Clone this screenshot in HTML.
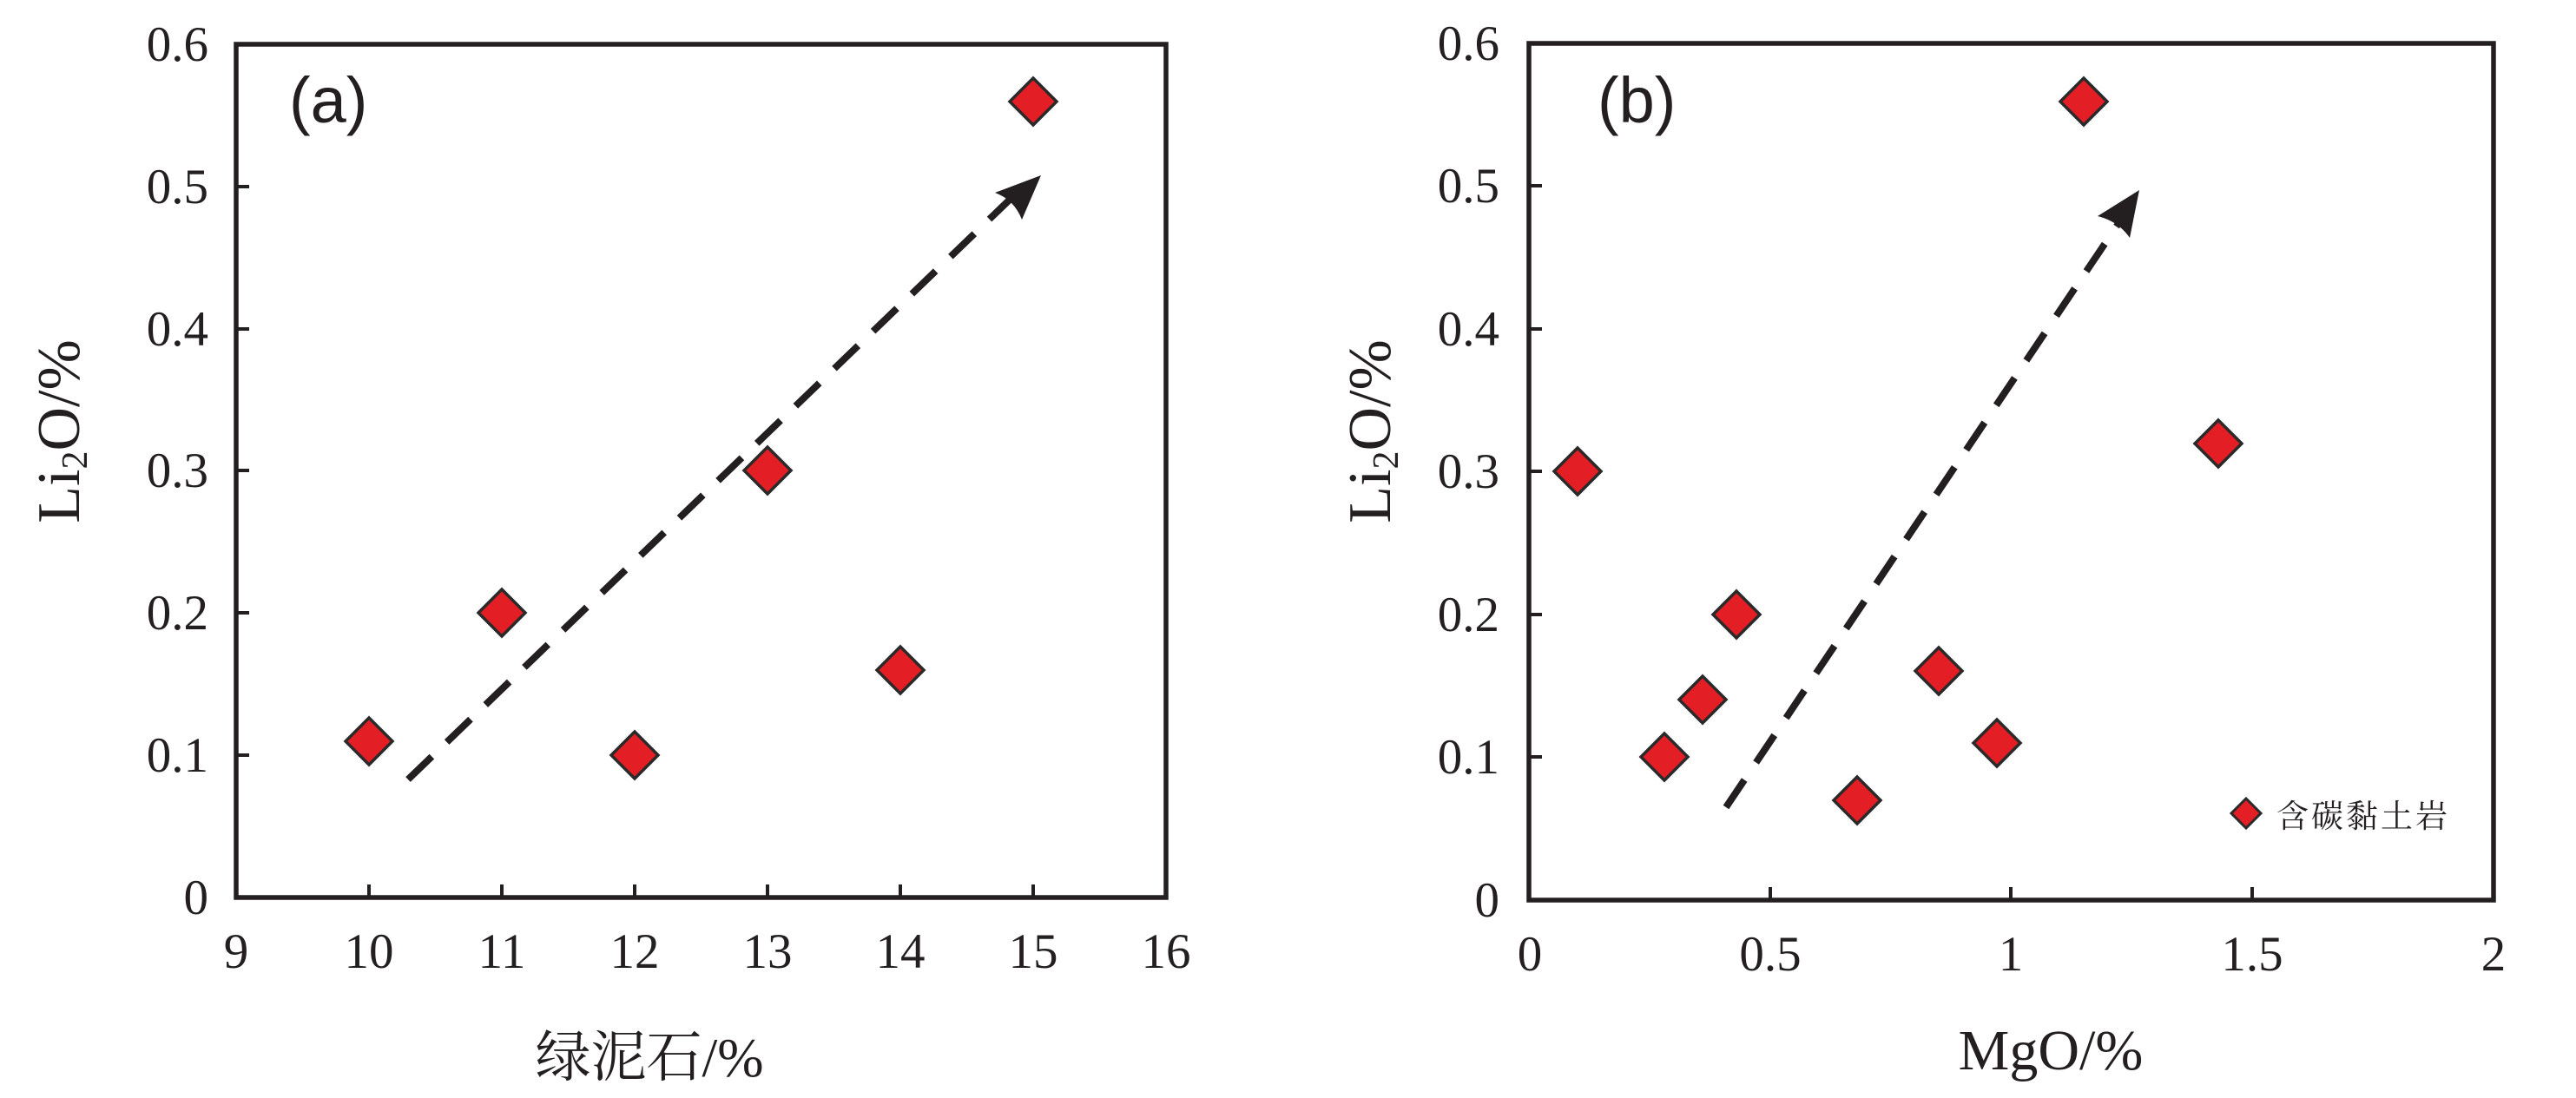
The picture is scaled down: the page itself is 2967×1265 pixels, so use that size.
<!DOCTYPE html>
<html><head><meta charset="utf-8"><style>
html,body{margin:0;padding:0;background:#fff;}
svg{display:block}
.t{font-family:"Liberation Serif",serif;font-size:57px;fill:#231f20}
.cn{font-family:"Liberation Serif","Noto Serif CJK SC",serif;font-size:64px;fill:#231f20}
.lab{font-family:"Liberation Sans",sans-serif;font-size:74px;fill:#231f20}
</style></head><body>
<svg width="2967" height="1265" viewBox="0 0 2967 1265" xmlns="http://www.w3.org/2000/svg">
<defs>
<path id="d" d="M0,-27 L27,0 L0,27 L-27,0 Z" fill="#e31e24" stroke="#2a2a2a" stroke-width="3.5"/>
</defs>
<!-- Panel a -->
<g>
<rect x="272" y="51" width="1071" height="983" fill="none" stroke="#231f20" stroke-width="5.5"/>
<g stroke="#231f20" stroke-width="4">
<line x1="425" y1="1034" x2="425" y2="1019"/><line x1="578" y1="1034" x2="578" y2="1019"/>
<line x1="731" y1="1034" x2="731" y2="1019"/><line x1="884" y1="1034" x2="884" y2="1019"/>
<line x1="1037" y1="1034" x2="1037" y2="1019"/><line x1="1190" y1="1034" x2="1190" y2="1019"/>
<line x1="272" y1="870" x2="287" y2="870"/><line x1="272" y1="706" x2="287" y2="706"/>
<line x1="272" y1="542" x2="287" y2="542"/><line x1="272" y1="379" x2="287" y2="379"/>
<line x1="272" y1="215" x2="287" y2="215"/>
</g>
<g class="t" text-anchor="end">
<text x="240" y="1053">0</text><text x="240" y="889">0.1</text><text x="240" y="725">0.2</text>
<text x="240" y="561">0.3</text><text x="240" y="398">0.4</text><text x="240" y="234">0.5</text><text x="240" y="70">0.6</text>
</g>
<g class="t" text-anchor="middle">
<text x="272" y="1115">9</text><text x="425" y="1115">10</text><text x="578" y="1115">11</text>
<text x="731" y="1115">12</text><text x="884" y="1115">13</text><text x="1037" y="1115">14</text>
<text x="1190" y="1115">15</text><text x="1343" y="1115">16</text>
</g>
<text class="cn" x="748" y="1240" text-anchor="middle">绿泥石/%</text>
<text class="t" style="font-size:70px" transform="translate(91,497) rotate(-90)" text-anchor="middle">Li<tspan font-size="42" dy="9">2</tspan><tspan dy="-9">O/%</tspan></text>
<text class="lab" x="333" y="141">(a)</text>
<line x1="470" y1="898" x2="1165" y2="228" stroke="#231f20" stroke-width="8" stroke-dasharray="38,24"/>
<path d="M1199,202 L1146,222 Q1168,230 1177,253 Z" fill="#231f20"/>
<use href="#d" x="425" y="854"/><use href="#d" x="578" y="706"/><use href="#d" x="731" y="870"/>
<use href="#d" x="884" y="542"/><use href="#d" x="1037" y="772"/><use href="#d" x="1190" y="117"/>
</g>
<!-- Panel b -->
<g>
<rect x="1761" y="50" width="1111" height="987" fill="none" stroke="#231f20" stroke-width="5.5"/>
<g stroke="#231f20" stroke-width="4">
<line x1="2039" y1="1037" x2="2039" y2="1022"/><line x1="2316" y1="1037" x2="2316" y2="1022"/>
<line x1="2594" y1="1037" x2="2594" y2="1022"/>
<line x1="1761" y1="872" x2="1776" y2="872"/><line x1="1761" y1="708" x2="1776" y2="708"/>
<line x1="1761" y1="543" x2="1776" y2="543"/><line x1="1761" y1="379" x2="1776" y2="379"/>
<line x1="1761" y1="214" x2="1776" y2="214"/>
</g>
<g class="t" text-anchor="end">
<text x="1727" y="1056">0</text><text x="1727" y="891">0.1</text><text x="1727" y="727">0.2</text>
<text x="1727" y="562">0.3</text><text x="1727" y="398">0.4</text><text x="1727" y="233">0.5</text><text x="1727" y="69">0.6</text>
</g>
<g class="t" text-anchor="middle">
<text x="1762" y="1118">0</text><text x="2039" y="1118">0.5</text><text x="2316" y="1118">1</text>
<text x="2594" y="1118">1.5</text><text x="2872" y="1118">2</text>
</g>
<text class="t" style="font-size:66px" x="2362" y="1232" text-anchor="middle">MgO/%</text>
<text class="t" style="font-size:70px" transform="translate(1601,497) rotate(-90)" text-anchor="middle">Li<tspan font-size="42" dy="9">2</tspan><tspan dy="-9">O/%</tspan></text>
<text class="lab" x="1840" y="141">(b)</text>
<line x1="1988" y1="930" x2="2445" y2="250" stroke="#231f20" stroke-width="8" stroke-dasharray="38,24"/>
<path d="M2464,219 L2416,249 Q2440,255 2453,274 Z" fill="#231f20"/>
<use href="#d" x="1817" y="543"/><use href="#d" x="1917" y="872"/><use href="#d" x="1961" y="806"/>
<use href="#d" x="2000" y="708"/><use href="#d" x="2139" y="922"/><use href="#d" x="2233" y="773"/>
<use href="#d" x="2300" y="856"/><use href="#d" x="2400" y="117"/><use href="#d" x="2555" y="511"/>
<path d="M2587,920 L2604,937 L2587,954 L2570,937 Z" fill="#e31e24" stroke="#2a2a2a" stroke-width="3"/>
<text x="2622" y="953" style="font-family:'Liberation Serif','Noto Serif CJK SC',serif;font-size:37px;letter-spacing:3px;fill:#231f20">含碳黏土岩</text>
</g>
</svg>
</body></html>
